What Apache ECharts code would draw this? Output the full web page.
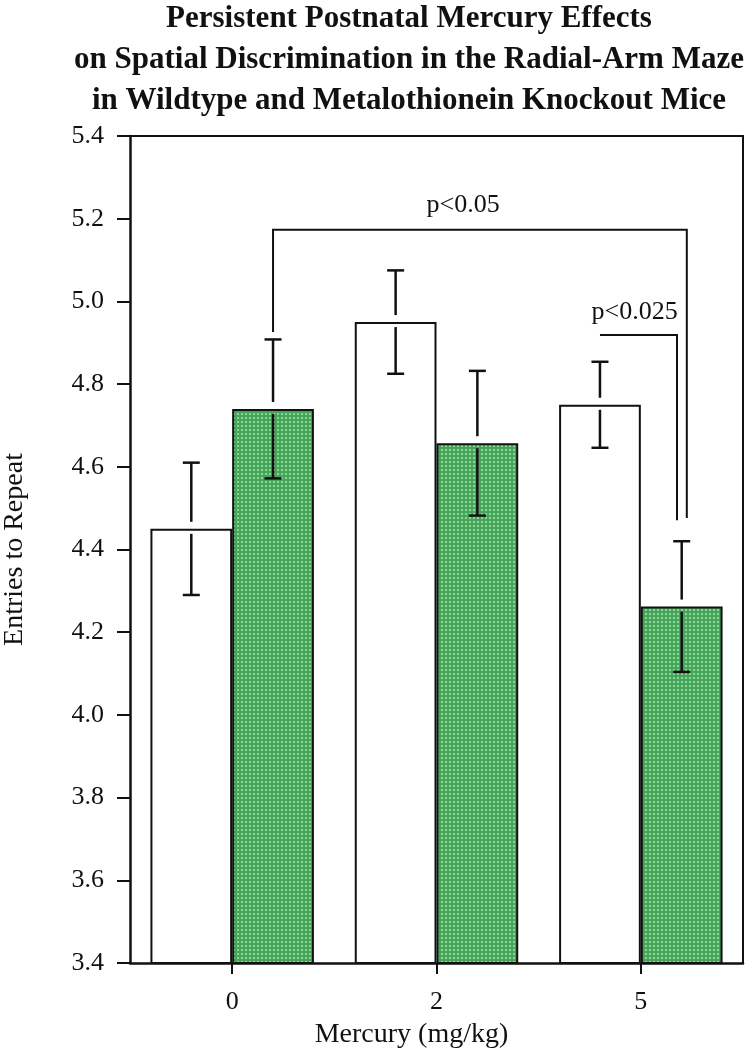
<!DOCTYPE html>
<html><head><meta charset="utf-8">
<script src="https://cdn.jsdelivr.net/npm/echarts@6/dist/echarts.min.js"></script>
<style>html,body{margin:0;padding:0;background:#fff}#c{width:746px;height:1050px}</style>
</head><body><div id="c"></div>
<script>
// ---- data ----
const categories = ['0', '2', '5'];
const yTicks = [3.4, 3.6, 3.8, 4.0, 4.2, 4.4, 4.6, 4.8, 5.0, 5.2, 5.4];
const wildtype = [4.45, 4.95, 4.75];
const wildtypeErr = [0.16, 0.125, 0.104];
const knockout = [4.74, 4.657, 4.262];
const knockoutErr = [0.168, 0.175, 0.158];
// significance brackets: [xStart, xEnd, yTop, yLeftEnd, yRightEnd] in category units (0..3)
const bracketLines = [[0.7, 2.725, 5.173, 4.926, 4.476], [2.3, 2.677, 4.919, 4.919, 4.471]];
const bracketLabels = ['p<0.05', 'p<0.025'];
const bracketLabelPos = [[1.63, 5.233], [2.47, 4.974]];

const FONT = '"Liberation Serif", "Times New Roman", serif';
const INK = '#111';

// green stippled fill
const pc = document.createElement('canvas'); pc.width = 4; pc.height = 4;
const g = pc.getContext('2d');
g.fillStyle = '#45a558'; g.fillRect(0, 0, 4, 4);
g.fillStyle = '#8ed59a'; g.fillRect(1, 1, 2, 2);
const greenFill = { image: pc, repeat: 'repeat' };

function errRender(sign) {
  return function (params, api) {
    const i = api.value(0), v = api.value(1), e = api.value(2);
    const cw = api.size([1, 0])[0];
    const dx = sign * cw * 0.2;
    const c = api.coord([i, v]), t = api.coord([i, v + e]), b = api.coord([i, v - e]);
    const x = c[0] + dx, cap = 8.5;
    const st = { stroke: INK, lineWidth: 2.5 };
    return { type: 'group', children: [
      { type: 'line', shape: { x1: x, y1: t[1], x2: x, y2: c[1] - 7 }, style: st },
      { type: 'line', shape: { x1: x, y1: c[1] + 5, x2: x, y2: b[1] }, style: st },
      { type: 'line', shape: { x1: x - cap, y1: t[1], x2: x + cap, y2: t[1] }, style: st },
      { type: 'line', shape: { x1: x - cap, y1: b[1], x2: x + cap, y2: b[1] }, style: st }
    ]};
  };
}
function bracketRender(params, api) {
  const x1 = api.value(0), x2 = api.value(1), yt = api.value(2), yl = api.value(3), yr = api.value(4);
  const pts = [api.coord([x1, yl]), api.coord([x1, yt]), api.coord([x2, yt]), api.coord([x2, yr])];
  return { type: 'polyline', shape: { points: pts }, style: { stroke: INK, lineWidth: 2, fill: null } };
}
function labelRender(params, api) {
  const p = api.coord([api.value(0), api.value(1)]);
  return { type: 'text', x: p[0], y: p[1], style: {
    text: bracketLabels[params.dataIndex], fill: INK, font: '26px ' + FONT,
    align: 'center', verticalAlign: 'middle' } };
}

const chart = echarts.init(document.getElementById('c'), null, { renderer: 'canvas' });
chart.setOption({
  animation: false,
  backgroundColor: '#fff',
  title: {
    text: 'Persistent Postnatal Mercury Effects\non Spatial Discrimination in the Radial-Arm Maze\nin Wildtype and Metalothionein Knockout Mice',
    left: 409, top: -2, textAlign: 'center', padding: 0,
    textStyle: { fontFamily: FONT, fontWeight: 'bold', fontSize: 31, lineHeight: 41, color: INK }
  },
  grid: { left: 130, right: 3, top: 136, bottom: 87, containLabel: false, outerBoundsMode: 'none' },
  xAxis: [
    {
      type: 'category', data: categories, position: 'bottom',
      name: 'Mercury (mg/kg)', nameLocation: 'middle', nameGap: 58,
      nameTextStyle: { fontFamily: FONT, fontSize: 28, color: INK, padding: [0, 50, 0, 0] },
      axisLine: { show: true, lineStyle: { color: INK, width: 2.5 } },
      axisTick: { show: true, alignWithLabel: true, length: 11, lineStyle: { color: INK, width: 2 } },
      axisLabel: { fontFamily: FONT, fontSize: 26, color: INK, margin: 26 },
      splitLine: { show: false }
    },
    {
      type: 'value', min: 0, max: 3, position: 'top',
      axisLine: { show: true, onZero: false, lineStyle: { color: INK, width: 2 } },
      axisTick: { show: false }, axisLabel: { show: false }, splitLine: { show: false }
    }
  ],
  yAxis: [
    {
      type: 'value', min: yTicks[0], max: yTicks[yTicks.length - 1], interval: 0.2,
      name: 'Entries to Repeat', nameLocation: 'middle', nameGap: 101,
      nameTextStyle: { fontFamily: FONT, fontSize: 28, color: INK },
      axisLine: { show: true, lineStyle: { color: INK, width: 2.5 } },
      axisTick: { show: true, length: 13, lineStyle: { color: INK, width: 2 } },
      axisLabel: { fontFamily: FONT, fontSize: 26, color: INK, margin: 26, formatter: v => v.toFixed(1) },
      splitLine: { show: false }
    },
    {
      type: 'value', min: yTicks[0], max: yTicks[yTicks.length - 1], position: 'right',
      axisLine: { show: true, lineStyle: { color: INK, width: 2 } },
      axisTick: { show: false }, axisLabel: { show: false }, splitLine: { show: false }
    }
  ],
  series: [
    {
      type: 'bar', name: 'Wildtype', data: wildtype, barGap: '0%', barCategoryGap: '20%',
      itemStyle: { color: '#fff', borderColor: INK, borderWidth: 2 }
    },
    {
      type: 'bar', name: 'MT Knockout', data: knockout, barGap: '0%', barCategoryGap: '20%',
      itemStyle: { color: greenFill, borderColor: INK, borderWidth: 2 }
    },
    {
      type: 'custom', renderItem: errRender(-1), z: 5,
      data: wildtype.map((v, i) => [i, v, wildtypeErr[i]])
    },
    {
      type: 'custom', renderItem: errRender(1), z: 5,
      data: knockout.map((v, i) => [i, v, knockoutErr[i]])
    },
    {
      type: 'custom', xAxisIndex: 1, yAxisIndex: 0, renderItem: bracketRender, z: 6,
      data: bracketLines
    },
    {
      type: 'custom', xAxisIndex: 1, yAxisIndex: 0, renderItem: labelRender, z: 7,
      data: bracketLabelPos
    }
  ]
});
</script>
</body></html>
